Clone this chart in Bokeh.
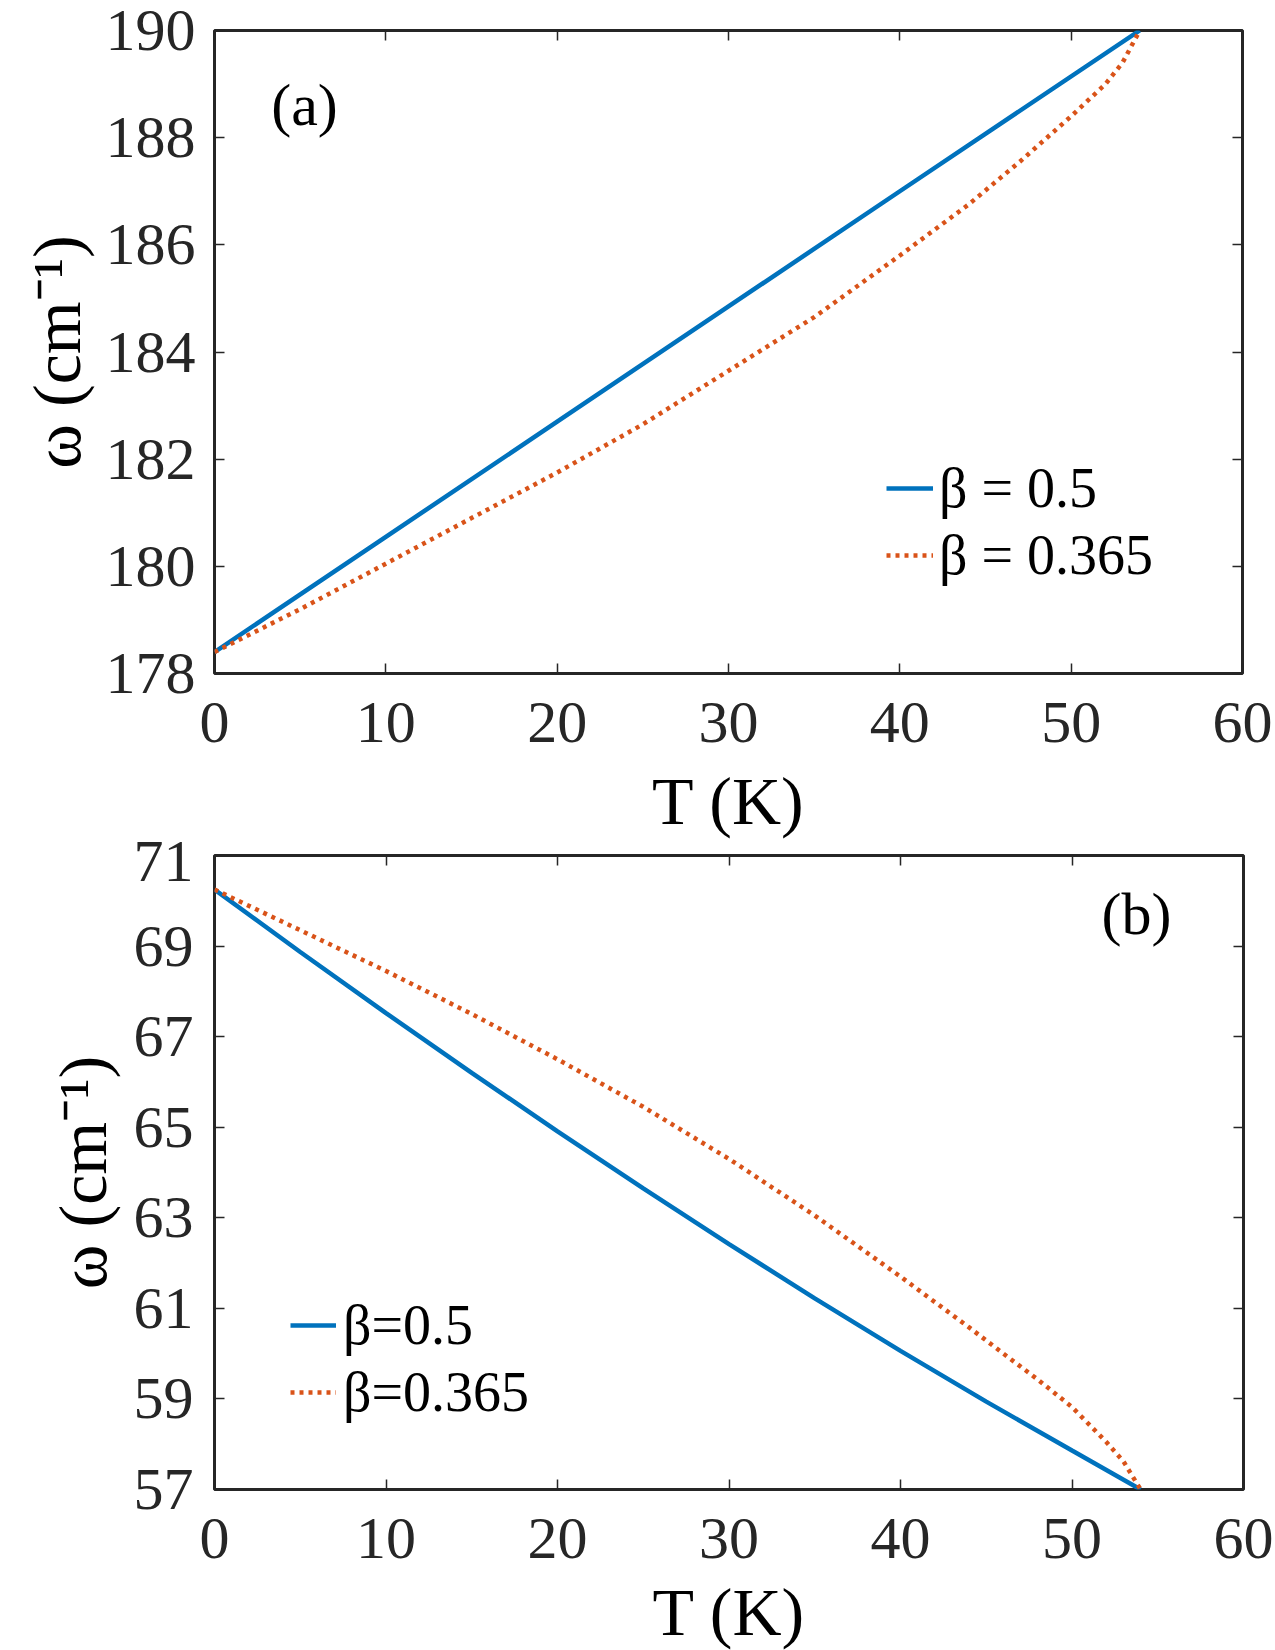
from bokeh.core.properties import value
from bokeh.embed import file_html
from bokeh.layouts import column
from bokeh.models import FixedTicker, Label, Legend, LegendItem, LinearAxis, Range1d
from bokeh.plotting import figure
from bokeh.resources import INLINE

# ---------------- data ----------------
# (a) high-frequency mode: omega (cm^-1) versus T (K)
temp_a_beta050 = [0, 10, 20, 30, 40, 54]
omega_a_beta050 = [178.4, 180.55, 182.7, 184.85, 187.0, 190.0]
temp_a_beta0365 = [0, 5, 10, 15, 20, 25, 30, 35, 40, 44, 47, 50, 52, 53, 54]
omega_a_beta0365 = [178.4, 179.2, 180.05, 180.9, 181.75, 182.65, 183.65, 184.65,
                    185.8, 186.75, 187.55, 188.4, 189.0, 189.4, 190.0]

# (b) low-frequency mode
temp_b_beta050 = [0, 5, 10, 15, 20, 25, 30, 35, 40, 45, 50, 54]
omega_b_beta050 = [70.25, 68.87, 67.52, 66.2, 64.91, 63.65, 62.42, 61.22, 60.06,
                   58.94, 57.86, 57.0]
temp_b_beta0365 = [0, 5, 10, 15, 20, 25, 30, 35, 40, 44, 46, 48, 50, 52, 53, 54]
omega_b_beta0365 = [70.25, 69.35, 68.45, 67.5, 66.5, 65.45, 64.3, 63.05, 61.7,
                    60.58, 60.0, 59.43, 58.82, 58.05, 57.62, 57.0]

x_ticks = [0, 10, 20, 30, 40, 50, 60]
y_ticks_a = [178, 180, 182, 184, 186, 188, 190]
y_ticks_b = [57, 59, 61, 63, 65, 67, 69, 71]
legend_a = ["\u03b2 = 0.5", "\u03b2 = 0.365"]
legend_b = ["\u03b2=0.5", "\u03b2=0.365"]
x_title = "T (K)"
y_title = "\u03c9 (cm\u207b\u00b9)"
panel_tags = ["(a)", "(b)"]

# ---------------- styling ----------------
FONT = "Liberation Serif"
INK = "#262626"
BLUE = "#0072BD"
ORANGE = "#D95319"
PAGE_W = 1275


class Panel:
    """A boxed MATLAB-style axes placed at a fixed pixel frame."""

    def __init__(self, page_top, height, left, top, fw, fh, xr, yr, yticks,
                 ystand, ytitle_stand, xtitle_stand):
        self.page_top, self.left, self.top = page_top, left, top
        self.fw, self.fh, self.xr, self.yr = fw, fh, xr, yr
        p = figure(width=PAGE_W, height=height, frame_width=fw, frame_height=fh,
                   x_range=Range1d(*xr), y_range=Range1d(*yr),
                   output_backend="svg", toolbar_location=None,
                   min_border_left=left, min_border_right=PAGE_W - left - fw,
                   min_border_top=top, min_border_bottom=height - top - fh)
        p.grid.visible = False
        p.outline_line_color = INK
        p.outline_line_width = 3
        p.outline_line_alpha = 1.0
        p.background_fill_color = "white"
        p.border_fill_color = "white"

        p.xaxis.ticker = FixedTicker(ticks=x_ticks)
        p.yaxis.ticker = FixedTicker(ticks=yticks)
        p.xaxis.major_label_standoff = 29
        p.yaxis.major_label_standoff = ystand
        p.xaxis.axis_label = x_title
        p.yaxis.axis_label = y_title
        p.xaxis.axis_label_standoff = xtitle_stand
        p.yaxis.axis_label_standoff = ytitle_stand

        # tick marks on the top and right edges of the box, without numbers
        top_ax = LinearAxis(ticker=FixedTicker(ticks=x_ticks),
                            major_label_overrides={t: "" for t in x_ticks})
        right_ax = LinearAxis(ticker=FixedTicker(ticks=yticks),
                              major_label_overrides={t: "" for t in yticks})
        p.add_layout(top_ax, "above")
        p.add_layout(right_ax, "right")
        for ax in p.xaxis + p.yaxis:
            ax.axis_line_color = None
            ax.major_tick_in = 10
            ax.major_tick_out = 0
            ax.minor_tick_line_color = None
            ax.major_tick_line_color = INK
            ax.major_tick_line_width = 1.5
            ax.major_label_text_font = FONT
            ax.major_label_text_font_size = "60px"
            ax.major_label_text_color = INK
            ax.axis_label_text_font = FONT
            ax.axis_label_text_font_size = "68px"
            ax.axis_label_text_font_style = "normal"
            ax.axis_label_text_color = "black"
        for ax in (top_ax, right_ax):
            ax.major_label_text_font_size = "1px"
            ax.major_label_standoff = 0
        self.p = p

    def at(self, px, py):
        """Page pixel position -> data coordinates of this panel."""
        x0, x1 = self.xr
        y0, y1 = self.yr
        x = x0 + (px - self.left) / self.fw * (x1 - x0)
        y = y1 - (py - self.page_top - self.top) / self.fh * (y1 - y0)
        return x, y

    def tag(self, px, py, txt):
        x, y = self.at(px, py)
        self.p.add_layout(Label(x=x, y=y, text=txt, text_font=FONT,
                                text_font_size="60px", text_align="center",
                                text_baseline="middle", text_color="black"))

    def curves(self, t1, w1, t2, w2, labels, loc, standoff, gw):
        r1 = self.p.line(t1, w1, line_color=BLUE, line_width=4.5)
        r2 = self.p.line(t2, w2, line_color=ORANGE, line_width=4.5, line_dash="4 5")
        leg = Legend(items=[LegendItem(label=value(labels[0]), renderers=[r1]),
                            LegendItem(label=value(labels[1]), renderers=[r2])],
                     location=loc, padding=0, margin=0, spacing=3,
                     glyph_width=gw, glyph_height=20, label_standoff=standoff,
                     label_text_font=FONT, label_text_font_size="56px",
                     label_text_color="black", border_line_color=None,
                     background_fill_alpha=0)
        self.p.add_layout(leg)


SPLIT = 841  # page row where the lower panel's canvas begins

# ---------------- panel (a) ----------------
pa = Panel(page_top=0, height=SPLIT, left=214, top=30, fw=1028, fh=643,
           xr=(0, 60), yr=(178, 190), yticks=y_ticks_a, ystand=19,
           ytitle_stand=8, xtitle_stand=18)
pa.curves(temp_a_beta050, omega_a_beta050, temp_a_beta0365, omega_a_beta0365,
          legend_a, loc=(672, 86), standoff=6, gw=47)
pa.tag(304, 104, panel_tags[0])

# ---------------- panel (b) ----------------
pb = Panel(page_top=SPLIT, height=1650 - SPLIT, left=208, top=855 - SPLIT,
           fw=1029, fh=634, xr=(0, 60), yr=(57, 71), yticks=y_ticks_b,
           ystand=21, ytitle_stand=10, xtitle_stand=13)
pb.curves(temp_b_beta050, omega_b_beta050, temp_b_beta0365, omega_b_beta0365,
          legend_b, loc=(76, 65), standoff=7, gw=46)
pb.tag(1130, 913, panel_tags[1])

layout = column(pa.p, pb.p, spacing=0)
open("out.html", "w").write(file_html(layout, INLINE))
